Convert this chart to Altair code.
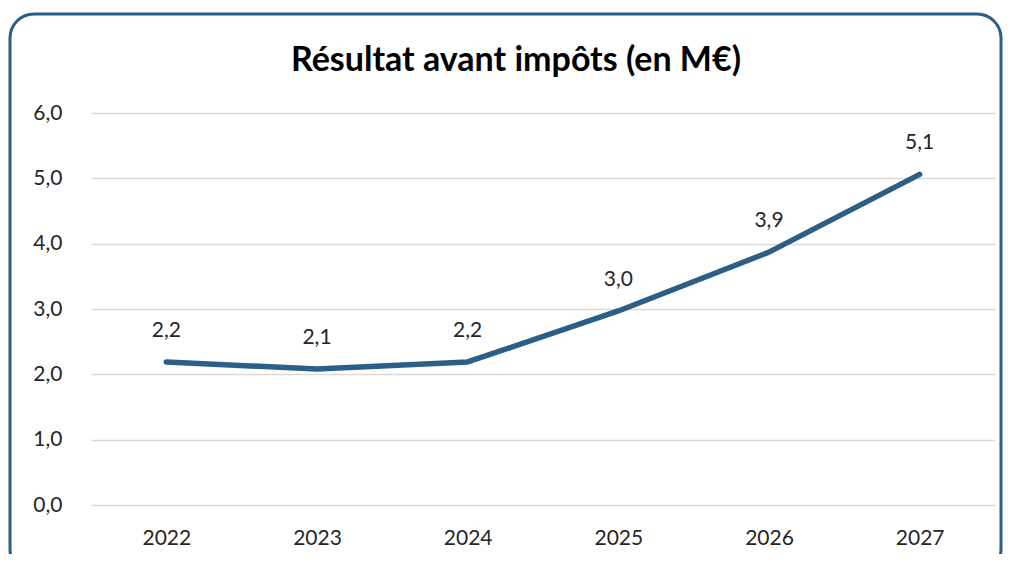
import altair as alt
import pandas as pd

years = ["2022", "2023", "2024", "2025", "2026", "2027"]
values = [2.19, 2.08, 2.19, 2.97, 3.87, 5.06]
y_ticks = [0, 1, 2, 3, 4, 5, 6]
title_text = "Résultat avant impôts (en M€)"

LINE = "#2B5F87"
TXT = "#262626"
FONT = "Lato"

df = pd.DataFrame({"year": years, "value": values})

base = alt.Chart(df).encode(
    x=alt.X("year:N", sort=years,
            scale=alt.Scale(paddingInner=0, paddingOuter=0),
            axis=alt.Axis(title=None, labelAngle=0, ticks=False, domain=False,
                          labelPadding=22, labelFontSize=21, labelColor=TXT,
                          labelFont=FONT, grid=False)),
    y=alt.Y("value:Q", scale=alt.Scale(domain=[0, 6]),
            axis=alt.Axis(title=None, values=y_ticks, ticks=False, domain=False,
                          labelExpr="replace(format(datum.value, '.1f'), '.', ',')",
                          labelPadding=29, labelFontSize=21, labelColor=TXT,
                          labelFont=FONT, gridColor="#D9D9D9", gridWidth=1.5)),
)

line = base.mark_line(color=LINE, strokeWidth=5.5, strokeCap="round", strokeJoin="round")

labels = base.transform_calculate(
    lab="replace(format(datum.value, '.1f'), '.', ',')"
).mark_text(dy=-31, fontSize=21, font=FONT, color=TXT).encode(text="lab:N")

border = alt.Chart(alt.Data(values=[{"a": 1}])).mark_rect(
    fillOpacity=0, stroke=LINE, strokeWidth=3, cornerRadius=24
).encode(
    x=alt.value(-81), x2=alt.value(910),
    y=alt.value(-99), y2=alt.value(460),
)

title = alt.Chart(alt.Data(values=[{"t": title_text}])).mark_text(
    fontSize=34, font=FONT, fontWeight="bold", color="#000000",
    align="center", baseline="alphabetic"
).encode(x=alt.value(425), y=alt.value(-42), text="t:N")

chart = alt.layer(border, line, labels, title).properties(
    width=904, height=392,
    autosize=alt.AutoSizeParams(type="none"),
    padding={"left": 83, "top": 105, "right": 8, "bottom": 49},
).configure_view(stroke=None)

chart.save("out.html", embed_options={"renderer": "svg", "actions": False})
